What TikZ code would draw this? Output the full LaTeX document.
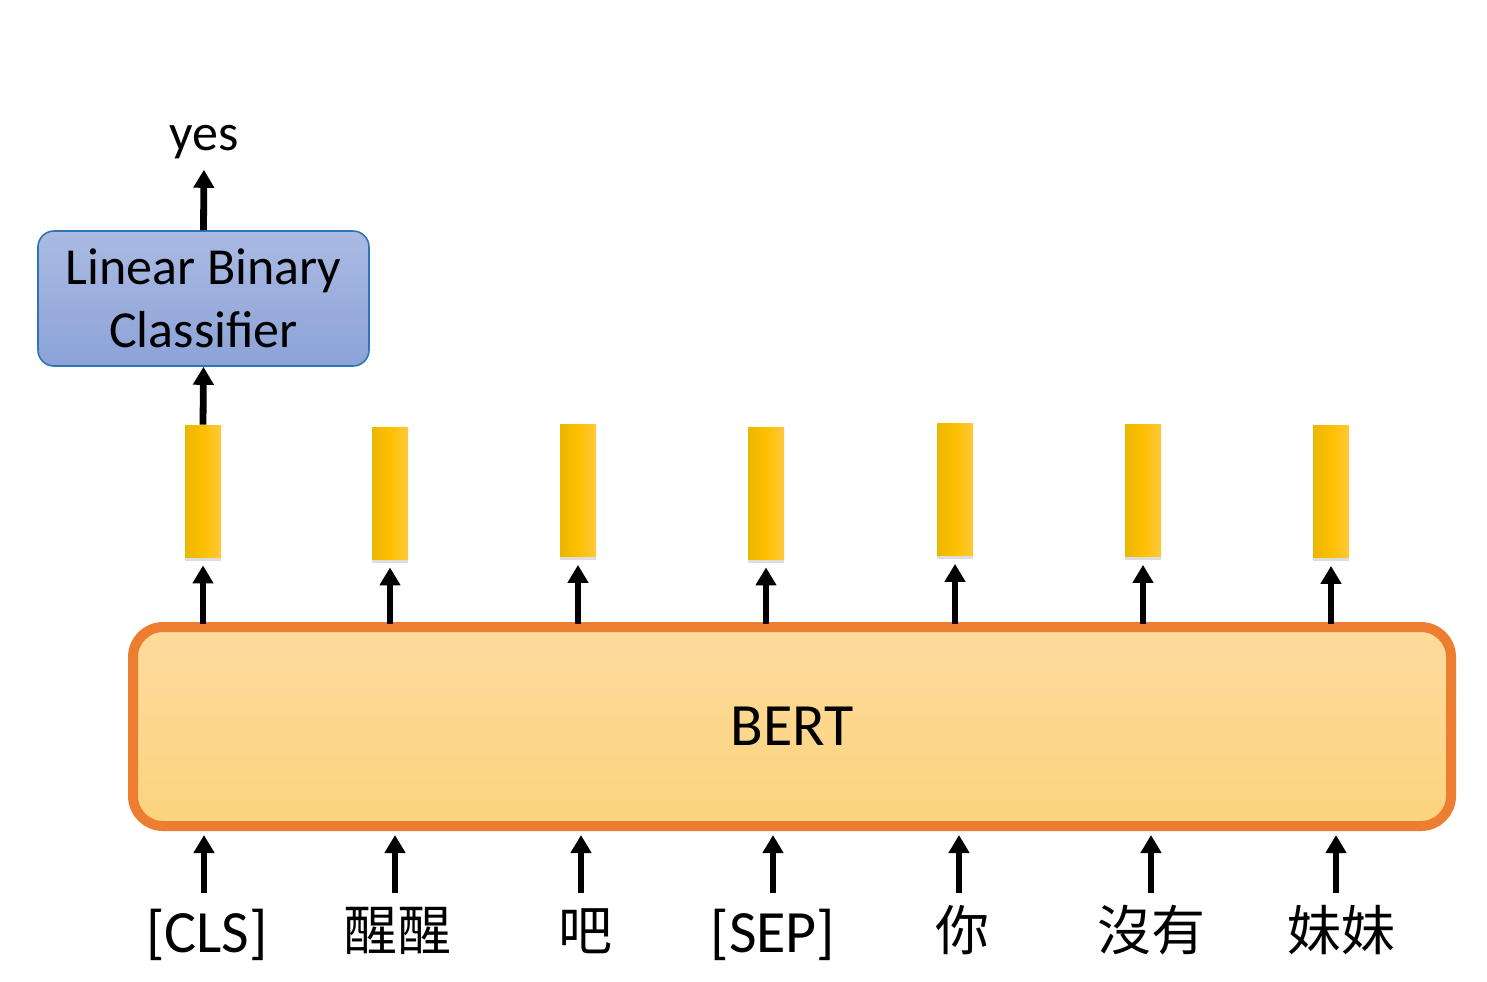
\documentclass[tikz,border=0pt]{standalone}
\usepackage{fontspec}
\setmainfont{Carlito}
\newfontfamily\cjk{Noto Sans CJK TC}
\usetikzlibrary{arrows.meta,shadows}
\definecolor{clftop}{HTML}{AABAE2}
\definecolor{clfbot}{HTML}{8CA3D8}
\definecolor{clfline}{HTML}{2E75B6}
\definecolor{berttop}{HTML}{FDDB9D}
\definecolor{bertbot}{HTML}{FCD37D}
\definecolor{bertline}{HTML}{ED7D31}
\definecolor{barl}{HTML}{EBB600}
\definecolor{barm}{HTML}{FFC000}
\definecolor{barr}{HTML}{FFC83C}
\tikzset{
  arr/.style={line width=3.4pt,-{Triangle[width=10pt,length=9pt]}},
  vecbar/.style={rectangle,minimum width=18pt,minimum height=66pt,inner sep=0pt,
    left color=barl,right color=barr,middle color=barm,draw=none,
    drop shadow={shadow xshift=0pt,shadow yshift=-1.8pt,opacity=0.22,fill=black!60}},
  bertbox/.style={rectangle,rounded corners=15pt,line width=5pt,draw=bertline,
    top color=berttop,bottom color=bertbot,minimum width=659pt,minimum height=99.5pt,
    font=\fontsize{30pt}{36pt}\selectfont},
  clfbox/.style={rectangle,rounded corners=8pt,line width=0.8pt,draw=clfline,
    top color=clftop,bottom color=clfbot,minimum width=165.5pt,minimum height=67.5pt,
    align=center,inner sep=0pt,font=\fontsize{26pt}{31.5pt}\selectfont},
  lat/.style={anchor=base,inner sep=0pt,font=\fontsize{30pt}{36pt}\selectfont},
  han/.style={anchor=base,inner sep=0pt,font=\cjk\fontsize{27pt}{32pt}\selectfont},
}
\begin{document}
\begin{tikzpicture}[x=0.5pt,y=-0.5pt]
\useasboundingbox (0,0) rectangle (1487,981);
\fill[white] (0,0) rectangle (1487,981);

% BERT
\node[bertbox] (bert) at (792,726.5) {BERT};

% classifier
\node[clfbox] (clf) at (203.5,298.5) {Linear Binary\\Classifier};
\node[anchor=base,inner sep=0pt,font=\fontsize{26pt}{31pt}\selectfont] (yes) at (204,150) {yes};

% output vectors
\node[vecbar] (b1) at (203,491) {};
\node[vecbar] (b2) at (390,493) {};
\node[vecbar] (b3) at (578,490.5) {};
\node[vecbar] (b4) at (766,493) {};
\node[vecbar] (b5) at (955,489.5) {};
\node[vecbar] (b6) at (1143,490.5) {};
\node[vecbar] (b7) at (1331,491.5) {};

\foreach \i in {1,...,7}{
  \draw[arr,shorten >=4pt] ([yshift=-1pt]b\i.south |- bert.north) -- (b\i.south);
}
\draw[arr] (b1.north) -- (clf.south);
\draw[arr,shorten >=5.5pt] (clf.north) -- (yes.south);

% input tokens
\node[lat] (t1) at (207,952) {[CLS]};
\node[han] (t2) at (397,950) {醒醒};
\node[han] (t3) at (585,950) {吧};
\node[lat] (t4) at (773,952) {[SEP]};
\node[han] (t5) at (962,950) {你};
\node[han] (t6) at (1151,950) {沒有};
\node[han] (t7) at (1341,950) {妹妹};

\coordinate (i1) at (204,893);
\coordinate (i2) at (395,893);
\coordinate (i3) at (581,893);
\coordinate (i4) at (773,893);
\coordinate (i5) at (959,893);
\coordinate (i6) at (1151,893);
\coordinate (i7) at (1336,893);
\foreach \i in {1,...,7}{
  \draw[arr,shorten >=2pt] (i\i) -- (i\i |- bert.south);
}
\end{tikzpicture}
\end{document}
